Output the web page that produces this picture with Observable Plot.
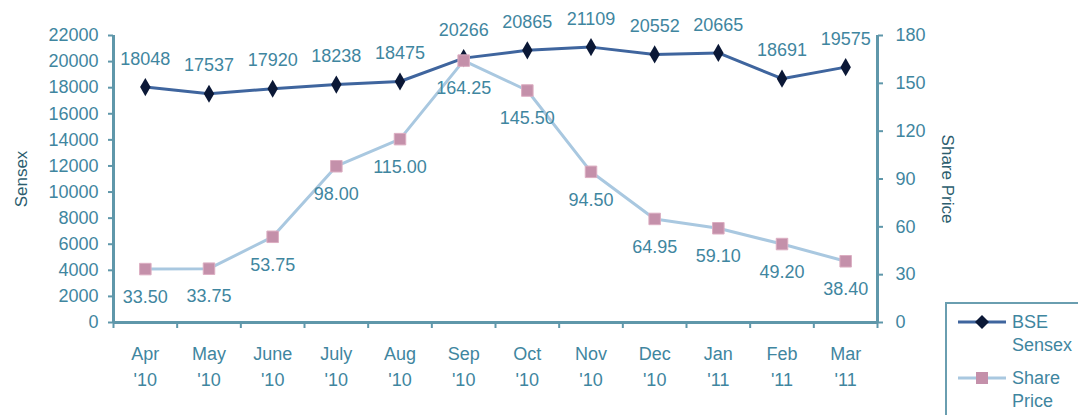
<!DOCTYPE html>
<html><head><meta charset="utf-8">
<script src="https://cdn.jsdelivr.net/npm/d3@7"></script>
<script src="https://cdn.jsdelivr.net/npm/@observablehq/plot@0.6"></script>
<style>
html,body{margin:0;padding:0;background:#fff;}
body{width:1078px;height:415px;overflow:hidden;position:relative;font-family:"Liberation Sans",Arial,sans-serif;}
#chart{position:absolute;left:0;top:0;}
#legend{position:absolute;left:945px;top:302px;width:150px;height:125px;border:2px solid #6a9eb0;box-sizing:border-box;background:#fff;color:#3f86a0;font-size:18px;}
#legend .t{position:absolute;left:65px;line-height:23px;}
</style></head>
<body>
<div id="chart"></div>
<div id="legend">
  <svg width="60" height="110" style="position:absolute;left:9px;top:0">
    <line x1="2" y1="18" x2="50" y2="18" stroke="#3f659e" stroke-width="3"/>
    <path d="M26,11 L33,18 L26,25 L19,18Z" fill="#0b1836"/>
    <line x1="2" y1="74" x2="50" y2="74" stroke="#a9c8e0" stroke-width="3"/>
    <rect x="20" y="68" width="12" height="12" fill="#c490aa"/>
  </svg>
  <div class="t" style="top:7px">BSE<br>Sensex</div>
  <div class="t" style="top:63px">Share<br>Price</div>
</div>
<script>
const months = ["Apr","May","June","July","Aug","Sep","Oct","Nov","Dec","Jan","Feb","Mar"];
const years = ["'10","'10","'10","'10","'10","'10","'10","'10","'10","'11","'11","'11"];
const sensex = [18048,17537,17920,18238,18475,20266,20865,21109,20552,20665,18691,19575];
const sharePrice = [33.50,33.75,53.75,98.00,115.00,164.25,145.50,94.50,64.95,59.10,49.20,38.40];
const sensexTicks = [0,2000,4000,6000,8000,10000,12000,14000,16000,18000,20000,22000];
const priceTicks = [0,30,60,90,120,150,180];
const sensexMax = 22000, priceMax = 180;
const k = sensexMax / priceMax;

const rows = months.map((m, i) => ({
  pos: i + 0.5,
  sensex: sensex[i],
  price: sharePrice[i],
  priceScaled: sharePrice[i] * k
}));

const axisColor = "#5f97aa";
const textColor = "#3f86a0";

const chart = Plot.plot({
  width: 1078,
  height: 415,
  marginLeft: 113,
  marginRight: 201,
  marginTop: 35,
  marginBottom: 93,
  style: {fontFamily: "'Liberation Sans', Arial, sans-serif", fontSize: "18px", color: textColor, background: "white"},
  x: {domain: [0, months.length]},
  y: {domain: [0, sensexMax]},
  marks: [
    Plot.axisY({ticks: sensexTicks, tickSize: 5, tickPadding: 10, tickFormat: d => String(d), label: null, stroke: axisColor, strokeWidth: 2, fill: textColor}),
    Plot.axisY({anchor: "right", ticks: priceTicks.map(v => v * k), tickSize: 5, tickPadding: 13, tickFormat: d => String(Math.round(d / k)), label: null, stroke: axisColor, strokeWidth: 2, fill: textColor}),
    Plot.axisX({ticks: d3.range(months.length + 1), tickSize: 6, tickFormat: () => "", label: null, stroke: axisColor, strokeWidth: 2}),
    Plot.axisX({ticks: rows.map(d => d.pos), tickSize: 0, tickPadding: 19, lineHeight: 1.45,
      tickFormat: d => months[Math.floor(d)] + "\n" + years[Math.floor(d)], label: null, fill: textColor}),
    Plot.ruleX([0, months.length], {stroke: axisColor, strokeWidth: 3}),
    Plot.ruleY([0], {stroke: axisColor, strokeWidth: 3}),
    Plot.line(rows, {x: "pos", y: "sensex", stroke: "#3f659e", strokeWidth: 3}),
    Plot.dot(rows, {x: "pos", y: "sensex", symbol: "diamond", r: 5.5, fill: "#0b1836"}),
    Plot.line(rows, {x: "pos", y: "priceScaled", stroke: "#a9c8e0", strokeWidth: 3}),
    Plot.dot(rows, {x: "pos", y: "priceScaled", symbol: "square", r: 6.5, fill: "#c490aa", stroke: "#dcaec2", strokeWidth: 1}),
    Plot.text(rows, {x: "pos", y: "sensex", text: d => String(d.sensex), dy: -28, fill: textColor, fontSize: 18}),
    Plot.text(rows, {x: "pos", y: "priceScaled", text: d => d.price.toFixed(2), dy: 28, fill: textColor, fontSize: 18}),
    Plot.text(["Sensex"], {frameAnchor: "left", dx: -92, rotate: -90, textAnchor: "middle", fill: "#2c5d6e", fontSize: 17}),
    Plot.text(["Share Price"], {frameAnchor: "right", dx: 70, rotate: 90, textAnchor: "middle", fill: "#2c5d6e", fontSize: 17})
  ]
});
document.getElementById("chart").appendChild(chart);
</script>
</body></html>
